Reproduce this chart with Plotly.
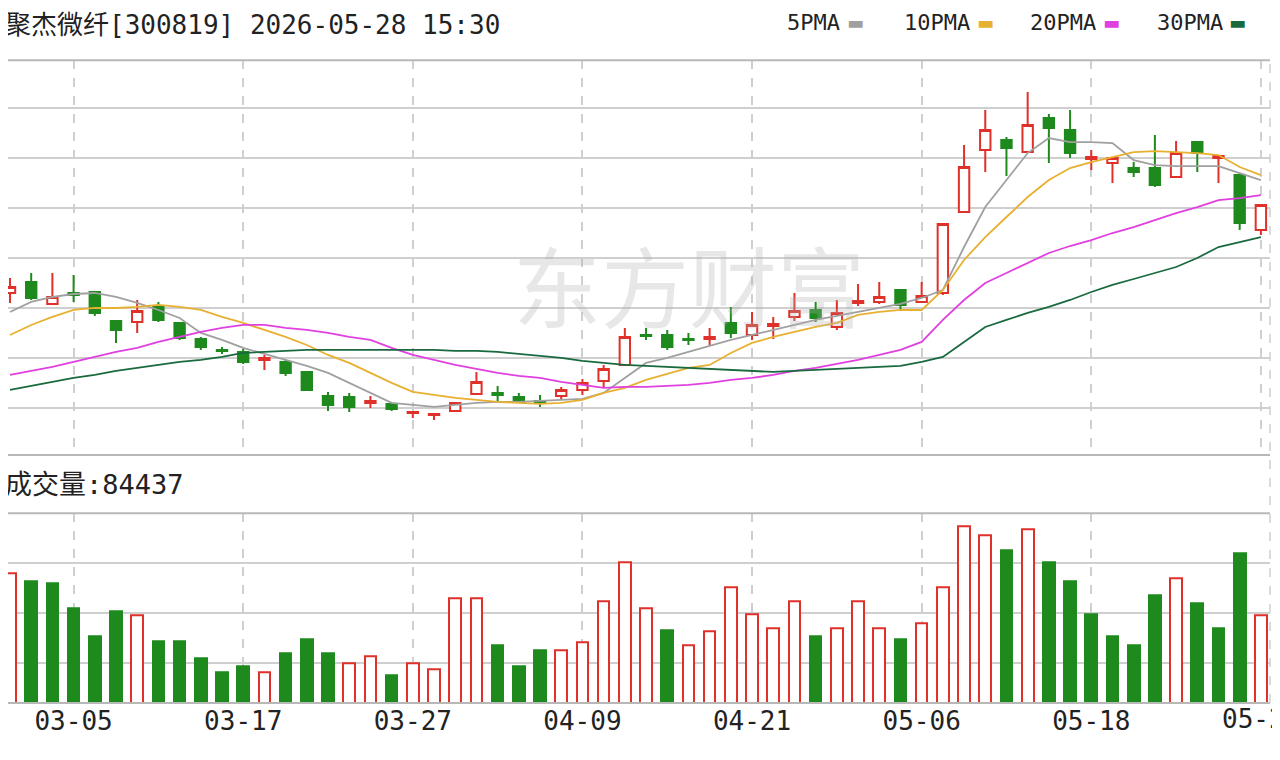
import plotly.graph_objects as go

# K线数据（从图上读取的估计值，纵轴无刻度，单位任意）
opens = [20.7, 21.8, 19.6, 20.7, 20.8, 17.9, 17.8, 19.3, 17.7, 16.1, 15.0, 14.8, 14.0, 13.8, 12.8, 10.4, 10.3, 9.7, 9.6, 8.7,
         8.5, 8.9, 10.6, 10.7, 10.3, 9.9, 10.4, 11.0, 11.9, 13.5, 16.5, 16.5, 16.1, 16.1, 17.7, 16.5, 17.4, 18.3, 19.0, 17.3,
         19.7, 19.8, 21.0, 19.8, 20.7, 28.8, 35.0, 36.0, 34.8, 38.2, 37.0, 34.1, 33.7, 33.2, 33.2, 32.3, 35.8, 34.2, 32.5, 27.0]
closes = [21.3, 20.2, 20.3, 20.5, 18.7, 17.0, 18.9, 18.0, 16.2, 15.3, 14.9, 13.8, 14.2, 12.7, 11.0, 9.5, 9.3, 9.9, 9.1, 8.8,
          8.6, 9.7, 11.8, 10.5, 9.8, 9.7, 11.0, 11.7, 13.1, 16.3, 16.4, 15.3, 16.0, 16.3, 16.7, 17.5, 17.6, 18.9, 18.2, 18.7,
          19.9, 20.3, 19.5, 20.4, 27.6, 33.3, 37.0, 35.2, 37.5, 37.2, 34.7, 34.3, 34.2, 32.8, 31.5, 34.7, 34.7, 34.4, 27.7, 29.5]
highs = [22.2, 22.7, 22.7, 22.5, 20.8, 18.0, 20.0, 19.8, 17.8, 16.3, 15.3, 15.1, 14.5, 14.0, 12.8, 10.8, 10.7, 10.4, 9.7, 8.9,
         8.6, 9.8, 12.8, 11.4, 10.7, 10.5, 11.3, 12.1, 13.5, 17.2, 17.2, 17.0, 16.7, 17.2, 19.3, 18.8, 18.3, 20.7, 19.8, 20.0,
         21.6, 21.8, 21.0, 21.8, 27.6, 35.5, 39.0, 36.3, 40.8, 38.6, 39.0, 35.0, 34.2, 33.8, 36.5, 35.9, 35.8, 34.5, 32.7, 29.5]
lows = [19.7, 20.0, 19.6, 19.8, 18.4, 15.7, 16.7, 17.8, 16.0, 15.0, 14.6, 13.6, 13.0, 12.4, 10.9, 8.9, 8.8, 9.2, 8.9, 8.2,
        8.0, 8.8, 10.5, 9.8, 9.7, 9.3, 10.0, 10.5, 11.2, 13.5, 16.0, 15.0, 15.5, 15.5, 16.2, 16.0, 16.1, 17.9, 17.8, 17.0,
        19.4, 19.6, 19.0, 19.8, 20.5, 28.7, 32.8, 32.4, 34.8, 33.7, 34.2, 33.0, 31.7, 32.3, 31.3, 32.2, 32.8, 31.7, 27.0, 26.5]

# 均线
ma5 = [18.8, 19.8, 20.3, 20.6, 20.7, 20.3, 19.7, 19.0, 18.2, 16.7, 16.0, 15.2, 14.6, 14.0, 13.4, 12.7, 11.7, 10.7, 9.7, 9.5,
       9.3, 9.5, 9.7, 9.8, 9.8, 9.9, 10.0, 10.1, 10.7, 12.2, 13.7, 14.2, 14.8, 15.4, 16.0, 16.5, 17.0, 17.5, 18.0, 18.4,
       18.8, 19.2, 19.6, 20.2, 21.0, 25.3, 29.3, 32.0, 34.7, 36.2, 35.8, 35.8, 35.7, 34.0, 33.5, 33.4, 33.4, 33.4, 32.7, 32.0]
ma10 = [16.5, 17.5, 18.3, 19.0, 19.2, 19.2, 19.3, 19.5, 19.3, 19.0, 18.3, 17.7, 17.0, 16.3, 15.5, 14.5, 13.7, 12.7, 11.7, 10.8,
        10.5, 10.2, 10.0, 9.8, 9.7, 9.6, 9.7, 10.0, 10.7, 11.2, 12.0, 12.6, 13.2, 13.5, 14.7, 15.7, 16.3, 16.8, 17.3, 17.7,
        18.5, 18.8, 19.0, 19.0, 21.0, 24.0, 26.3, 28.3, 30.3, 32.0, 33.2, 33.8, 34.3, 34.8, 34.9, 34.8, 34.7, 34.5, 33.3, 32.5]
ma20 = [12.5, 12.9, 13.3, 13.8, 14.3, 14.8, 15.2, 15.8, 16.3, 16.8, 17.2, 17.5, 17.5, 17.2, 17.0, 16.7, 16.3, 16.0, 15.2, 14.5,
        14.0, 13.5, 13.1, 12.7, 12.4, 12.2, 11.8, 11.5, 11.2, 11.3, 11.3, 11.4, 11.5, 11.7, 12.0, 12.2, 12.5, 12.9, 13.2, 13.6,
        14.0, 14.5, 15.0, 15.8, 18.0, 20.0, 21.7, 22.7, 23.7, 24.7, 25.4, 26.0, 26.7, 27.3, 28.0, 28.7, 29.3, 30.0, 30.2, 30.5]
ma30 = [11.0, 11.4, 11.8, 12.2, 12.5, 12.9, 13.2, 13.5, 13.8, 14.0, 14.3, 14.7, 14.8, 14.9, 15.0, 15.0, 15.0, 15.0, 15.0, 15.0,
        15.0, 14.9, 14.9, 14.8, 14.6, 14.4, 14.2, 13.9, 13.7, 13.5, 13.4, 13.3, 13.2, 13.1, 13.0, 12.9, 12.8, 12.9, 13.0, 13.1,
        13.2, 13.3, 13.4, 13.8, 14.3, 15.8, 17.3, 18.0, 18.7, 19.3, 20.0, 20.8, 21.5, 22.1, 22.7, 23.3, 24.2, 25.3, 25.8, 26.3]

# 成交量
volume = [130, 122, 120, 95, 67, 92, 88, 62, 62, 45, 31, 37, 31, 50, 64, 50, 40, 47, 28, 40,
          34, 105, 105, 58, 37, 53, 53, 61, 102, 141, 95, 73, 58, 72, 116, 89, 75, 102, 67, 75,
          102, 75, 64, 80, 116, 177, 168, 153, 174, 141, 122, 89, 67, 58, 108, 125, 100, 75, 150, 88]
vol_up = [1, 0, 0, 0, 0, 0, 1, 0, 0, 0, 0, 0, 1, 0, 0, 0, 1, 1, 0, 1,
          1, 1, 1, 0, 0, 0, 1, 1, 1, 1, 1, 0, 1, 1, 1, 1, 1, 1, 0, 1,
          1, 1, 0, 1, 1, 1, 1, 0, 1, 0, 0, 0, 0, 0, 0, 1, 0, 0, 0, 1]

tick_idx = [3, 11, 19, 27, 35, 43, 51, 59]
tick_labels = ["03-05", "03-17", "03-27", "04-09", "04-21", "05-06", "05-18", "05-28"]

ma_names = ["5PMA", "10PMA", "20PMA", "30PMA"]
ma_colors = ["#a0a0a0", "#e8b030", "#e040e0", "#1a6a40"]

RED = "#e0302a"
GREEN = "#1e8a1e"
MONO = "DejaVu Sans Mono, Noto Sans CJK SC"
idx = list(range(len(opens)))

fig = go.Figure()
fig.add_trace(go.Candlestick(
    x=idx, open=opens, high=highs, low=lows, close=closes,
    increasing=dict(line=dict(color=RED, width=2), fillcolor="white"),
    decreasing=dict(line=dict(color=GREEN, width=2), fillcolor=GREEN),
    whiskerwidth=0, showlegend=False, xaxis="x", yaxis="y"))

for vals, col in zip([ma5, ma10, ma20, ma30], ma_colors):
    fig.add_trace(go.Scatter(x=idx, y=vals, mode="lines", line=dict(color=col, width=1.8),
                             showlegend=False, xaxis="x", yaxis="y"))

up_x = [i for i in idx if vol_up[i]]
dn_x = [i for i in idx if not vol_up[i]]
fig.add_trace(go.Bar(x=up_x, y=[volume[i] for i in up_x], width=0.55,
                     marker=dict(color="white", line=dict(color=RED, width=2)),
                     showlegend=False, xaxis="x2", yaxis="y2"))
fig.add_trace(go.Bar(x=dn_x, y=[volume[i] for i in dn_x], width=0.55,
                     marker=dict(color=GREEN, line=dict(color=GREEN, width=2)),
                     showlegend=False, xaxis="x2", yaxis="y2"))

xr = [-0.094, 59.43]
grid = "#cfcfcf"
fig.update_layout(
    width=1280, height=760, margin=dict(l=0, r=18, t=0, b=65),
    paper_bgcolor="white", plot_bgcolor="white",
    font=dict(family=MONO, color="#222"),
    bargap=0,
    xaxis=dict(range=xr, domain=[0, 1], anchor="y", tickvals=tick_idx, showticklabels=False,
               showgrid=True, gridcolor=grid, griddash="dash", gridwidth=1.5, zeroline=False,
               rangeslider=dict(visible=False)),
    yaxis=dict(domain=[0.357, 0.925], range=[4.5, 44.0], tick0=9.2, dtick=5, showticklabels=False,
               showgrid=True, gridcolor=grid, gridwidth=2, zeroline=False),
    xaxis2=dict(range=xr, domain=[0, 1], anchor="y2", tickvals=tick_idx[:-1], ticktext=tick_labels[:-1],
                showgrid=True, gridcolor=grid, griddash="dash", gridwidth=1.5, zeroline=False,
                ticks="", tickfont=dict(size=26, family=MONO, color="#222")),
    yaxis2=dict(domain=[0, 0.273], range=[0, 190], tick0=40, dtick=50, showticklabels=False,
                showgrid=True, gridcolor=grid, gridwidth=2, zeroline=False),
)

# 最后一个日期标签（在右边缘被截断）
fig.add_annotation(text=tick_labels[-1], xref="x2", yref="paper", x=tick_idx[-1], y=0,
                   xanchor="center", yanchor="top", showarrow=False, yshift=1,
                   font=dict(size=26, family=MONO, color="#222"))

# 面板边框线
for yv in [0.925, 0.357, 0.273, 0]:
    fig.add_shape(type="line", xref="paper", yref="paper", x0=0, x1=1, y0=yv, y1=yv,
                  line=dict(color="#b8b8b8", width=2))
fig.add_shape(type="line", xref="paper", yref="paper", x0=1, x1=1, y0=0, y1=0.925,
              line=dict(color="#cfcfcf", width=1.5, dash="dash"))

# 标题
fig.add_annotation(text="聚杰微纤[300819] 2026-05-28 15:30", xref="paper", yref="paper",
                   x=-0.004, y=1.0, xanchor="left", yanchor="top", showarrow=False, yshift=0,
                   font=dict(size=26, family=MONO, color="#222"))

# 图例
leg_x = [0.661, 0.764, 0.864, 0.964]
for name, col, lx in zip(ma_names, ma_colors, leg_x):
    fig.add_annotation(text=name, xref="paper", yref="paper", x=lx, y=1.0, xanchor="right",
                       yanchor="top", showarrow=False, yshift=0,
                       font=dict(size=22, family=MONO, color="#222"))
    fig.add_annotation(text="▬", xref="paper", yref="paper", x=lx + 0.002, y=1.0, xanchor="left",
                       yanchor="top", showarrow=False, yshift=-2,
                       font=dict(size=18, family="DejaVu Sans", color=col))

fig.add_annotation(text="成交量:84437", xref="paper", yref="paper", x=-0.004, y=0.315,
                   xanchor="left", yanchor="middle", showarrow=False,
                   font=dict(size=27, family=MONO, color="#222"))
fig.add_annotation(text="东方财富", xref="paper", yref="paper", x=0.54, y=0.70,
                   showarrow=False, font=dict(size=88, family="Noto Sans CJK SC",
                                              color="rgba(175,175,175,0.3)"))

fig.write_html("out.html")
